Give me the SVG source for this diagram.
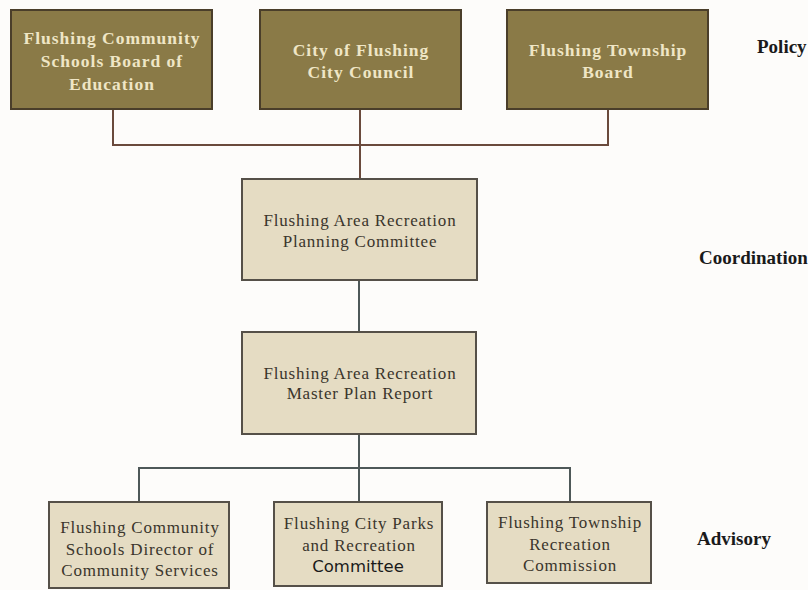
<svg xmlns="http://www.w3.org/2000/svg" width="808" height="590" viewBox="0 0 808 590">
<style>
.dark{fill:#8a7a47;stroke:#4a3e2a;stroke-width:2}
.light{fill:#e5dcc3;stroke:#555048;stroke-width:2}
.dt{font-family:"Liberation Serif",serif;font-weight:bold;font-size:17.5px;letter-spacing:1px;fill:#efe6c6;text-anchor:middle}
.lt{font-family:"Liberation Serif",serif;font-size:17px;letter-spacing:0.8px;fill:#3a352c;text-anchor:middle}
.st{font-family:"DejaVu Sans",sans-serif;font-size:16.5px;fill:#1a1a1a;text-anchor:middle}
.lab{font-family:"Liberation Serif",serif;font-weight:bold;font-size:19px;fill:#1a1a1a}
.c1{fill:none;stroke:#6a4a3c;stroke-width:2}
.c2{fill:none;stroke:#4e5858;stroke-width:2}
</style>
<rect width="808" height="590" fill="#fdfcfa"/>
<g id="connectors">
<polyline class="c1" points="113,109 113,145 608,145 608,109"/>
<line class="c1" x1="360" y1="109" x2="360" y2="179"/>
<line class="c2" x1="359" y1="280" x2="359" y2="332"/>
<line class="c2" x1="359" y1="434" x2="359" y2="502"/>
<polyline class="c2" points="139,502 139,468 570,468 570,502"/>
</g>
<g id="board">
<rect class="dark" x="11" y="10" width="201" height="99"/>
<text class="dt" x="112" y="44">Flushing Community</text>
<text class="dt" x="112" y="67">Schools Board of</text>
<text class="dt" x="112" y="90">Education</text>
</g>
<g id="council">
<rect class="dark" x="260" y="10" width="201" height="99"/>
<text class="dt" x="361" y="56">City of Flushing</text>
<text class="dt" x="361" y="78">City Council</text>
</g>
<g id="township">
<rect class="dark" x="507" y="10" width="201" height="99"/>
<text class="dt" x="608" y="56">Flushing Township</text>
<text class="dt" x="608" y="78">Board</text>
</g>
<g id="planning">
<rect class="light" x="242" y="179" width="235" height="101"/>
<text class="lt" x="360" y="226">Flushing Area Recreation</text>
<text class="lt" x="360" y="247">Planning Committee</text>
</g>
<g id="masterplan">
<rect class="light" x="242" y="332" width="234" height="102"/>
<text class="lt" x="360" y="379">Flushing Area Recreation</text>
<text class="lt" x="360" y="399">Master Plan Report</text>
</g>
<g id="director">
<rect class="light" x="49" y="502" width="180" height="86"/>
<text class="lt" x="140" y="533">Flushing Community</text>
<text class="lt" x="140" y="555">Schools Director of</text>
<text class="lt" x="140" y="576">Community Services</text>
</g>
<g id="parks">
<rect class="light" x="274" y="502" width="168" height="84"/>
<text class="lt" x="359" y="529">Flushing City Parks</text>
<text class="lt" x="359" y="551">and Recreation</text>
<text class="st" x="358" y="572">Committee</text>
</g>
<g id="commission">
<rect class="light" x="487" y="502" width="164" height="81"/>
<text class="lt" x="570" y="528">Flushing Township</text>
<text class="lt" x="570" y="550">Recreation</text>
<text class="lt" x="570" y="571">Commission</text>
</g>
<text class="lab" x="757" y="53">Policy</text>
<text class="lab" x="699" y="264">Coordination</text>
<text class="lab" x="697" y="545">Advisory</text>
</svg>
